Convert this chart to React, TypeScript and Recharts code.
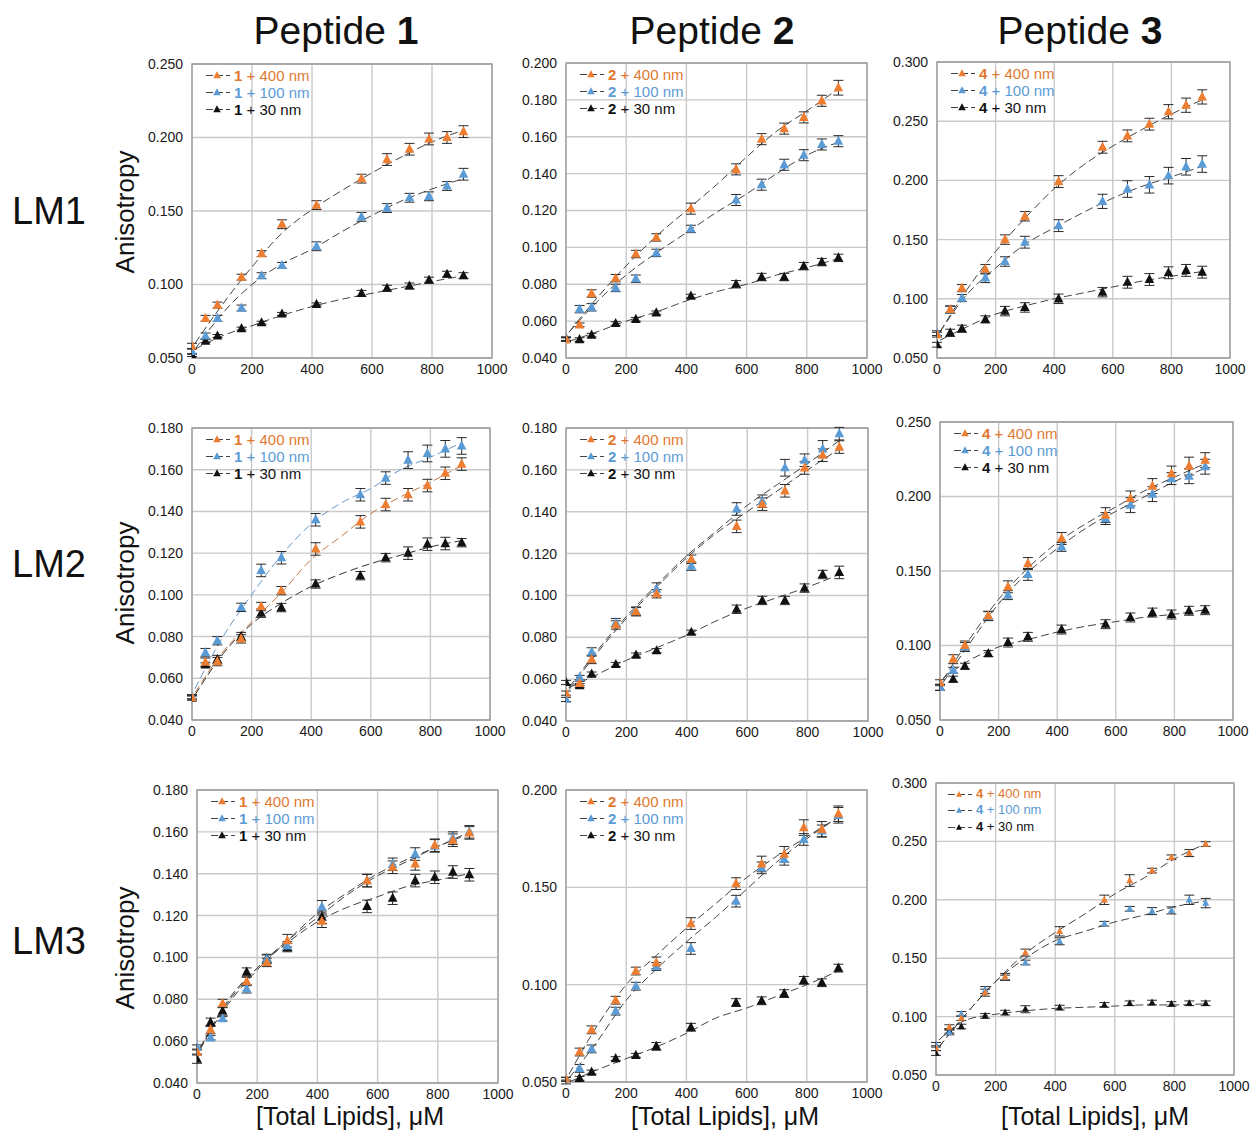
import React from "react";
import { ComposedChart, Scatter, Line, XAxis, YAxis, CartesianGrid, ErrorBar, ReferenceArea } from "recharts";

const ORANGE = "#ED7D31";
const BLUE = "#5B9BD5";
const BLACK = "#111111";
const FONT = "'Liberation Sans', Arial, Helvetica, sans-serif";

// lipid concentrations (uM) for the measured points and for the fitted curves
const lipids = [0, 45, 85, 165, 232, 300, 415, 565, 650, 725, 790, 850, 905];
const fitLipids = [10, 100, 200, 300, 400, 500, 600, 700, 800, 905];
const xTicks = [0, 200, 400, 600, 800, 1000];

// LM1 / peptide 1
const lm1p1_400 = [0.058, 0.077, 0.086, 0.105, 0.121, 0.141, 0.154, 0.172, 0.185, 0.192, 0.199, 0.2, 0.204];
const lm1p1_100 = [0.0545, 0.065, 0.077, 0.084, 0.106, 0.113, 0.126, 0.146, 0.152, 0.159, 0.16, 0.167, 0.175];
const lm1p1_30 = [0.052, 0.0615, 0.065, 0.07, 0.074, 0.08, 0.0865, 0.094, 0.0975, 0.099, 0.103, 0.107, 0.106];
const lm1p1_400_err = [0.002, 0.002, 0.002, 0.002, 0.002, 0.003, 0.003, 0.003, 0.004, 0.004, 0.004, 0.004, 0.004];
const lm1p1_100_err = [0.002, 0.002, 0.002, 0.002, 0.002, 0.002, 0.003, 0.003, 0.003, 0.003, 0.003, 0.003, 0.004];
const lm1p1_30_err = [0.001, 0.001, 0.001, 0.001, 0.001, 0.001, 0.001, 0.002, 0.002, 0.002, 0.002, 0.002, 0.002];
const lm1p1_400_fit = [0.06, 0.086, 0.112, 0.135, 0.151, 0.164, 0.176, 0.187, 0.197, 0.205];
const lm1p1_100_fit = [0.056, 0.08, 0.1, 0.114, 0.124, 0.136, 0.147, 0.157, 0.165, 0.172];
const lm1p1_30_fit = [0.056, 0.065, 0.072, 0.079, 0.085, 0.09, 0.094, 0.098, 0.102, 0.106];

// LM1 / peptide 2
const lm1p2_400 = [0.05, 0.058, 0.075, 0.0833, 0.0964, 0.1054, 0.121, 0.1423, 0.1587, 0.1644, 0.1705, 0.1795, 0.1866];
const lm1p2_100 = [0.05, 0.0665, 0.0675, 0.078, 0.083, 0.097, 0.11, 0.1257, 0.134, 0.1448, 0.15, 0.1558, 0.1576];
const lm1p2_30 = [0.0505, 0.05, 0.0524, 0.0587, 0.061, 0.0645, 0.0736, 0.08, 0.0839, 0.0839, 0.0898, 0.092, 0.0943];
const lm1p2_400_err = [0.001, 0.001, 0.002, 0.002, 0.002, 0.002, 0.003, 0.003, 0.003, 0.003, 0.003, 0.003, 0.004];
const lm1p2_100_err = [0.001, 0.002, 0.002, 0.002, 0.002, 0.002, 0.002, 0.003, 0.003, 0.003, 0.003, 0.003, 0.003];
const lm1p2_30_err = [0.001, 0.001, 0.001, 0.001, 0.001, 0.001, 0.001, 0.002, 0.002, 0.002, 0.002, 0.002, 0.002];
const lm1p2_400_fit = [0.054, 0.072, 0.09, 0.106, 0.12, 0.134, 0.149, 0.163, 0.174, 0.186];
const lm1p2_100_fit = [0.054, 0.07, 0.085, 0.097, 0.108, 0.119, 0.129, 0.14, 0.15, 0.157];
const lm1p2_30_fit = [0.049, 0.054, 0.06, 0.065, 0.071, 0.076, 0.08, 0.085, 0.089, 0.094];

// LM1 / peptide 3
const lm1p3_400 = [0.0697, 0.091, 0.109, 0.125, 0.15, 0.1697, 0.199, 0.228, 0.2376, 0.2475, 0.258, 0.2635, 0.2705];
const lm1p3_100 = [0.071, 0.0907, 0.1006, 0.1177, 0.1315, 0.1478, 0.1618, 0.1823, 0.1927, 0.1963, 0.204, 0.2115, 0.2138];
const lm1p3_30 = [0.0612, 0.0713, 0.0747, 0.0826, 0.0896, 0.0927, 0.1, 0.1056, 0.114, 0.1163, 0.122, 0.124, 0.1225];
const lm1p3_400_err = [0.002, 0.003, 0.003, 0.004, 0.004, 0.004, 0.005, 0.005, 0.005, 0.005, 0.006, 0.006, 0.006];
const lm1p3_100_err = [0.002, 0.003, 0.003, 0.004, 0.004, 0.005, 0.005, 0.006, 0.007, 0.007, 0.007, 0.007, 0.007];
const lm1p3_30_err = [0.002, 0.003, 0.003, 0.003, 0.004, 0.004, 0.004, 0.004, 0.005, 0.005, 0.005, 0.005, 0.005];
const lm1p3_400_fit = [0.072, 0.107, 0.14, 0.168, 0.193, 0.213, 0.229, 0.243, 0.256, 0.268];
const lm1p3_100_fit = [0.072, 0.103, 0.126, 0.146, 0.16, 0.173, 0.185, 0.195, 0.203, 0.212];
const lm1p3_30_fit = [0.065, 0.076, 0.087, 0.094, 0.1, 0.105, 0.11, 0.115, 0.119, 0.123];

// LM2 / peptide 1
const lm2p1_400 = [0.0507, 0.0677, 0.068, 0.0789, 0.0944, 0.102, 0.122, 0.135, 0.1433, 0.148, 0.1524, 0.1583, 0.1627];
const lm2p1_100 = [0.0512, 0.0723, 0.078, 0.094, 0.1117, 0.1178, 0.136, 0.148, 0.156, 0.1646, 0.1678, 0.17, 0.1714];
const lm2p1_30 = [0.0505, 0.0664, 0.069, 0.08, 0.0912, 0.0939, 0.1052, 0.1092, 0.1178, 0.12, 0.1243, 0.1246, 0.125];
const lm2p1_400_err = [0.001, 0.002, 0.002, 0.002, 0.002, 0.002, 0.003, 0.003, 0.003, 0.003, 0.003, 0.003, 0.003];
const lm2p1_100_err = [0.001, 0.002, 0.002, 0.002, 0.003, 0.003, 0.003, 0.003, 0.003, 0.004, 0.004, 0.004, 0.004];
const lm2p1_30_err = [0.001, 0.001, 0.002, 0.002, 0.002, 0.002, 0.002, 0.002, 0.002, 0.003, 0.003, 0.003, 0.002];
const lm2p1_400_fit = [0.053, 0.072, 0.087, 0.101, 0.117, 0.128, 0.139, 0.147, 0.154, 0.162];
const lm2p1_100_fit = [0.055, 0.079, 0.1, 0.119, 0.134, 0.144, 0.151, 0.16, 0.166, 0.173];
const lm2p1_30_fit = [0.052, 0.071, 0.086, 0.096, 0.104, 0.11, 0.115, 0.119, 0.123, 0.126];

// LM2 / peptide 2
const lm2p2_400 = [0.0533, 0.058, 0.0694, 0.0859, 0.0922, 0.1008, 0.1173, 0.133, 0.1436, 0.15, 0.1609, 0.167, 0.1709];
const lm2p2_100 = [0.0503, 0.0608, 0.073, 0.087, 0.0925, 0.103, 0.114, 0.1413, 0.145, 0.161, 0.1646, 0.17, 0.1773];
const lm2p2_30 = [0.0584, 0.0569, 0.0624, 0.067, 0.0715, 0.0736, 0.0824, 0.0934, 0.0976, 0.0976, 0.1035, 0.11, 0.111];
const lm2p2_400_err = [0.001, 0.001, 0.002, 0.002, 0.002, 0.002, 0.002, 0.003, 0.003, 0.003, 0.003, 0.003, 0.003];
const lm2p2_100_err = [0.001, 0.001, 0.002, 0.002, 0.002, 0.003, 0.002, 0.003, 0.003, 0.004, 0.003, 0.004, 0.003];
const lm2p2_30_err = [0.001, 0.001, 0.001, 0.001, 0.001, 0.001, 0.001, 0.002, 0.002, 0.002, 0.002, 0.002, 0.003];
const lm2p2_400_fit = [0.055, 0.072, 0.089, 0.104, 0.118, 0.13, 0.14, 0.15, 0.16, 0.17];
const lm2p2_100_fit = [0.056, 0.073, 0.09, 0.105, 0.119, 0.131, 0.143, 0.153, 0.163, 0.174];
const lm2p2_30_fit = [0.056, 0.062, 0.069, 0.075, 0.081, 0.088, 0.094, 0.099, 0.104, 0.11];

// LM2 / peptide 3
const lm2p3_400 = [0.075, 0.0908, 0.1, 0.12, 0.1394, 0.155, 0.1718, 0.1875, 0.1987, 0.207, 0.2154, 0.2204, 0.2244];
const lm2p3_100 = [0.0718, 0.0834, 0.099, 0.1197, 0.1338, 0.1477, 0.1662, 0.1852, 0.1942, 0.2016, 0.212, 0.2136, 0.22];
const lm2p3_30 = [0.072, 0.0774, 0.0861, 0.0946, 0.102, 0.1058, 0.1107, 0.1143, 0.1188, 0.1221, 0.1208, 0.1233, 0.1237];
const lm2p3_400_err = [0.002, 0.003, 0.003, 0.003, 0.004, 0.004, 0.004, 0.005, 0.005, 0.005, 0.005, 0.006, 0.005];
const lm2p3_100_err = [0.002, 0.002, 0.003, 0.003, 0.003, 0.004, 0.003, 0.004, 0.005, 0.005, 0.004, 0.005, 0.005];
const lm2p3_30_err = [0.002, 0.002, 0.002, 0.002, 0.003, 0.003, 0.003, 0.003, 0.003, 0.003, 0.003, 0.003, 0.003];
const lm2p3_400_fit = [0.077, 0.104, 0.131, 0.152, 0.169, 0.182, 0.193, 0.204, 0.213, 0.222];
const lm2p3_100_fit = [0.075, 0.101, 0.128, 0.149, 0.165, 0.179, 0.19, 0.2, 0.21, 0.219];
const lm2p3_30_fit = [0.078, 0.09, 0.099, 0.104, 0.109, 0.113, 0.116, 0.119, 0.121, 0.124];

// LM3 / peptide 1
const lm3p1_400 = [0.0548, 0.0655, 0.078, 0.0885, 0.0976, 0.108, 0.1173, 0.1367, 0.1431, 0.1447, 0.1536, 0.156, 0.1595];
const lm3p1_100 = [0.0572, 0.0616, 0.0707, 0.085, 0.0992, 0.1055, 0.1242, 0.1367, 0.1445, 0.1494, 0.1533, 0.157, 0.16];
const lm3p1_30 = [0.0514, 0.069, 0.0744, 0.093, 0.0995, 0.1047, 0.1192, 0.1244, 0.1283, 0.1367, 0.1383, 0.1408, 0.1395];
const lm3p1_400_err = [0.001, 0.002, 0.002, 0.002, 0.002, 0.003, 0.003, 0.003, 0.003, 0.003, 0.003, 0.003, 0.003];
const lm3p1_100_err = [0.001, 0.001, 0.001, 0.002, 0.002, 0.002, 0.003, 0.003, 0.003, 0.003, 0.003, 0.003, 0.003];
const lm3p1_30_err = [0.002, 0.002, 0.002, 0.002, 0.002, 0.002, 0.003, 0.003, 0.003, 0.003, 0.003, 0.003, 0.003];
const lm3p1_400_fit = [0.056, 0.078, 0.095, 0.108, 0.119, 0.13, 0.139, 0.146, 0.153, 0.159];
const lm3p1_100_fit = [0.057, 0.077, 0.094, 0.108, 0.121, 0.131, 0.14, 0.147, 0.153, 0.16];
const lm3p1_30_fit = [0.056, 0.079, 0.095, 0.107, 0.117, 0.124, 0.129, 0.134, 0.137, 0.14];

// LM3 / peptide 2
const lm3p2_400 = [0.0514, 0.0654, 0.0768, 0.092, 0.107, 0.1112, 0.1314, 0.1519, 0.162, 0.167, 0.1807, 0.1798, 0.1878];
const lm3p2_100 = [0.0514, 0.057, 0.067, 0.0864, 0.0992, 0.1093, 0.1186, 0.1429, 0.16, 0.1644, 0.1746, 0.179, 0.187];
const lm3p2_30 = [0.05, 0.0519, 0.0551, 0.062, 0.0637, 0.0683, 0.0781, 0.0908, 0.0917, 0.0954, 0.1022, 0.101, 0.1085];
const lm3p2_400_err = [0.001, 0.002, 0.002, 0.002, 0.002, 0.003, 0.003, 0.003, 0.004, 0.004, 0.004, 0.004, 0.004];
const lm3p2_100_err = [0.001, 0.002, 0.002, 0.002, 0.002, 0.002, 0.003, 0.003, 0.003, 0.003, 0.003, 0.003, 0.004];
const lm3p2_30_err = [0.001, 0.001, 0.001, 0.001, 0.001, 0.002, 0.002, 0.002, 0.002, 0.002, 0.002, 0.002, 0.002];
const lm3p2_400_fit = [0.054, 0.078, 0.1, 0.115, 0.129, 0.142, 0.155, 0.166, 0.176, 0.186];
const lm3p2_100_fit = [0.052, 0.07, 0.092, 0.108, 0.122, 0.135, 0.149, 0.163, 0.175, 0.186];
const lm3p2_30_fit = [0.05, 0.056, 0.062, 0.068, 0.075, 0.083, 0.088, 0.094, 0.1, 0.107];

// LM3 / peptide 3
const lm3p3_400 = [0.073, 0.091, 0.0986, 0.1205, 0.134, 0.1548, 0.173, 0.2, 0.2165, 0.225, 0.2364, 0.24, 0.2477];
const lm3p3_100 = [0.0759, 0.0864, 0.1023, 0.1227, 0.1335, 0.1463, 0.1645, 0.1795, 0.1923, 0.1903, 0.1909, 0.2, 0.1972];
const lm3p3_30 = [0.0688, 0.0878, 0.0915, 0.1006, 0.1034, 0.1063, 0.1077, 0.11, 0.1114, 0.112, 0.1108, 0.1114, 0.1114];
const lm3p3_400_err = [0.002, 0.002, 0.002, 0.003, 0.003, 0.003, 0.004, 0.004, 0.005, 0.002, 0.002, 0.003, 0.002];
const lm3p3_100_err = [0.002, 0.002, 0.002, 0.003, 0.002, 0.002, 0.003, 0.002, 0.002, 0.003, 0.003, 0.004, 0.004];
const lm3p3_30_err = [0.002, 0.002, 0.002, 0.002, 0.002, 0.003, 0.002, 0.002, 0.002, 0.002, 0.002, 0.002, 0.002];
const lm3p3_400_fit = [0.074, 0.102, 0.13, 0.154, 0.172, 0.188, 0.205, 0.219, 0.235, 0.248];
const lm3p3_100_fit = [0.074, 0.102, 0.13, 0.15, 0.165, 0.173, 0.181, 0.187, 0.194, 0.199];
const lm3p3_30_fit = [0.08, 0.097, 0.102, 0.105, 0.107, 0.108, 0.109, 0.11, 0.11, 0.111];

const ticks040_180 = [0.04, 0.06, 0.08, 0.1, 0.12, 0.14, 0.16, 0.18];
const ticks040_200 = [0.04, 0.06, 0.08, 0.1, 0.12, 0.14, 0.16, 0.18, 0.2];
const ticks050_250 = [0.05, 0.1, 0.15, 0.2, 0.25];
const ticks050_300 = [0.05, 0.1, 0.15, 0.2, 0.25, 0.3];
const ticks050_200 = [0.05, 0.1, 0.15, 0.2];

type Series = { vals: number[]; errs: number[]; fit: number[]; size: string; color: string; fitColor: string };

const mkSeries = (vals: number[], errs: number[], fit: number[], size: string, fitColor = "#444"): Series => ({
  vals,
  errs,
  fit,
  size,
  color: size === "400" ? ORANGE : size === "100" ? BLUE : BLACK,
  fitColor,
});

function steps(lo: number, hi: number, step: number) {
  const out: number[] = [];
  for (let v = lo; v <= hi + 1e-9; v += step) out.push(Number(v.toFixed(4)));
  return out;
}

function Triangle(props: any) {
  const { cx, cy, fill, r } = props;
  if (cx == null || cy == null) return null;
  const d = `M${cx},${cy - r * 1.15} L${cx + r},${cy + r * 0.75} L${cx - r},${cy + r * 0.75} Z`;
  return <path d={d} fill={fill} />;
}

type PanelProps = {
  left: number;
  top: number;
  w: number;
  h: number;
  domain: [number, number];
  ticks: number[];
  minor: number;
  pep: string;
  series: Series[]; // order: 400, 100, 30
  small?: boolean;
};

const TOP = 12;

function Panel({ left, top, w, h, domain, ticks, minor, pep, series, small }: PanelProps) {
  const minorY = steps(domain[0], domain[1], minor);
  const minorX = steps(0, 1000, 50);
  const r = small ? 3.5 : 4.8;
  const tickStyle = { fontSize: 14, fill: "#1a1a1a", fontFamily: FONT };
  const legendSize = small ? 13 : 15;
  const rowH = small ? 16.5 : 17;
  return (
    <>
      <div style={{ position: "absolute", left: left - 50, top: top - TOP }}>
        <ComposedChart width={w + 72} height={h + TOP + 24} margin={{ top: TOP, right: 22, bottom: 0, left: 0 }}>
          <CartesianGrid stroke="#c9c9c9" strokeWidth={1.4} />
          <XAxis
            dataKey="x"
            type="number"
            domain={[0, 1000]}
            ticks={xTicks}
            interval={0}
            height={24}
            tickLine={false}
            axisLine={false}
            tickSize={4}
            tickMargin={2}
            tick={tickStyle}
            allowDataOverflow
          />
          <XAxis xAxisId="mb" orientation="bottom" mirror height={0} type="number" domain={[0, 1000]} ticks={minorX} interval={0} tick={false} axisLine={false} tickLine={{ stroke: "#555" }} tickSize={4} allowDataOverflow />
          <XAxis xAxisId="mt" orientation="top" mirror height={0} type="number" domain={[0, 1000]} ticks={minorX} interval={0} tick={false} axisLine={false} tickLine={{ stroke: "#555" }} tickSize={4} allowDataOverflow />
          <YAxis
            dataKey="y"
            type="number"
            domain={domain}
            ticks={ticks}
            interval={0}
            width={50}
            tickLine={false}
            axisLine={false}
            tickSize={6}
            tickMargin={3}
            tick={tickStyle}
            tickFormatter={(v: number) => v.toFixed(3)}
            allowDataOverflow
          />
          <YAxis yAxisId="ml" orientation="left" mirror width={0} type="number" domain={domain} ticks={minorY} interval={0} tick={false} axisLine={false} tickLine={{ stroke: "#555" }} tickSize={4} allowDataOverflow />
          <YAxis yAxisId="mr" orientation="right" mirror width={0} type="number" domain={domain} ticks={minorY} interval={0} tick={false} axisLine={false} tickLine={{ stroke: "#555" }} tickSize={4} allowDataOverflow />
          <ReferenceArea x1={0} x2={1000} y1={domain[0]} y2={domain[1]} fill="none" fillOpacity={0} stroke="#9a9a9a" strokeWidth={1.3} />
          {series.map((s) => (
            <Line
              key={"fit" + s.size}
              data={fitLipids.map((x, i) => ({ x, y: s.fit[i] }))}
              dataKey="y"
              type="monotone"
              stroke={s.fitColor}
              strokeWidth={1}
              strokeDasharray="8 4"
              dot={false}
              activeDot={false}
              isAnimationActive={false}
            />
          ))}
          {[...series].reverse().map((s) => (
            <Scatter
              key={"pts" + s.size}
              data={lipids.map((x, i) => ({ x, y: s.vals[i], e: s.errs[i] }))}
              fill={s.color}
              isAnimationActive={false}
              shape={(p: any) => <Triangle cx={p.cx} cy={p.cy} fill={s.color} r={r} />}
            >
              <ErrorBar dataKey="e" direction="y" width={5} stroke="#2a2a2a" strokeWidth={1} />
            </Scatter>
          ))}
        </ComposedChart>
      </div>
      {series.map((s, i) => (
        <div
          key={"lg" + s.size}
          style={{
            position: "absolute",
            left: left + (small ? 12 : 14),
            top: top + 2.5 + i * rowH,
            height: rowH,
            lineHeight: rowH + "px",
            display: "flex",
            alignItems: "center",
            fontFamily: FONT,
            fontSize: legendSize,
            whiteSpace: "nowrap",
          }}
        >
          <svg width={24} height={10} style={{ display: "block" }}>
            <line x1={0} y1={5.5} x2={24} y2={5.5} stroke="#444" strokeWidth={1} strokeDasharray="7 3" />
            <Triangle cx={11} cy={5.5} fill={s.color} r={small ? 3 : 3.8} />
          </svg>
          <span style={{ marginLeft: 4, color: s.size === "30" ? "#111" : s.size === "400" ? "#E0792F" : BLUE }}>
            <b style={{ color: s.size === "30" ? "#111" : undefined }}>{pep}</b> + {s.size} nm
          </span>
        </div>
      ))}
    </>
  );
}

const rowLabels = ["LM1", "LM2", "LM3"];
const rowCenters = [211, 564, 941];
const yLabelCenters = [212, 583, 948];
const colTitles = ["1", "2", "3"];
const colCenters = [336, 712, 1080];
const xLabelCenters = [350, 725, 1095];

export default function App() {
  return (
    <div style={{ position: "absolute", left: 0, top: 0, width: 1252, height: 1132, background: "#fff", fontFamily: FONT, color: "#111" }}>
      {colTitles.map((t, i) => (
        <div key={"ct" + i} style={{ position: "absolute", left: colCenters[i] - 150, top: 11, width: 300, textAlign: "center", fontSize: 39, lineHeight: "39px" }}>
          Peptide <b>{t}</b>
        </div>
      ))}
      {rowLabels.map((t, i) => (
        <div key={"rl" + i} style={{ position: "absolute", left: 12, top: rowCenters[i] - 22, fontSize: 38, lineHeight: "44px" }}>
          {t}
        </div>
      ))}
      {yLabelCenters.map((c, i) => (
        <div
          key={"yl" + i}
          style={{
            position: "absolute",
            left: 125 - 100,
            top: c - 15,
            width: 200,
            height: 30,
            lineHeight: "30px",
            textAlign: "center",
            fontSize: 26,
            transform: "rotate(-90deg)",
          }}
        >
          Anisotropy
        </div>
      ))}
      {xLabelCenters.map((c, i) => (
        <div key={"xl" + i} style={{ position: "absolute", left: c - 150, top: 1104, width: 300, textAlign: "center", fontSize: 25, lineHeight: "25px" }}>
          [Total Lipids], μM
        </div>
      ))}

      <Panel left={192} top={64} w={300} h={294} domain={[0.05, 0.25]} ticks={ticks050_250} minor={0.01} pep="1"
        series={[mkSeries(lm1p1_400, lm1p1_400_err, lm1p1_400_fit, "400"), mkSeries(lm1p1_100, lm1p1_100_err, lm1p1_100_fit, "100"), mkSeries(lm1p1_30, lm1p1_30_err, lm1p1_30_fit, "30")]} />
      <Panel left={566} top={63} w={301} h={295} domain={[0.04, 0.2]} ticks={ticks040_200} minor={0.005} pep="2"
        series={[mkSeries(lm1p2_400, lm1p2_400_err, lm1p2_400_fit, "400"), mkSeries(lm1p2_100, lm1p2_100_err, lm1p2_100_fit, "100"), mkSeries(lm1p2_30, lm1p2_30_err, lm1p2_30_fit, "30")]} />
      <Panel left={937} top={62} w={293} h={296} domain={[0.05, 0.3]} ticks={ticks050_300} minor={0.01} pep="4"
        series={[mkSeries(lm1p3_400, lm1p3_400_err, lm1p3_400_fit, "400"), mkSeries(lm1p3_100, lm1p3_100_err, lm1p3_100_fit, "100"), mkSeries(lm1p3_30, lm1p3_30_err, lm1p3_30_fit, "30")]} />

      <Panel left={192} top={428} w={298} h={292} domain={[0.04, 0.18]} ticks={ticks040_180} minor={0.005} pep="1"
        series={[mkSeries(lm2p1_400, lm2p1_400_err, lm2p1_400_fit, "400", "#C07A4E"), mkSeries(lm2p1_100, lm2p1_100_err, lm2p1_100_fit, "100", "#6A97C4"), mkSeries(lm2p1_30, lm2p1_30_err, lm2p1_30_fit, "30", "#333")]} />
      <Panel left={566} top={428} w={302} h={293} domain={[0.04, 0.18]} ticks={ticks040_180} minor={0.005} pep="2"
        series={[mkSeries(lm2p2_400, lm2p2_400_err, lm2p2_400_fit, "400"), mkSeries(lm2p2_100, lm2p2_100_err, lm2p2_100_fit, "100"), mkSeries(lm2p2_30, lm2p2_30_err, lm2p2_30_fit, "30")]} />
      <Panel left={940} top={422} w={293} h={298} domain={[0.05, 0.25]} ticks={ticks050_250} minor={0.01} pep="4"
        series={[mkSeries(lm2p3_400, lm2p3_400_err, lm2p3_400_fit, "400"), mkSeries(lm2p3_100, lm2p3_100_err, lm2p3_100_fit, "100"), mkSeries(lm2p3_30, lm2p3_30_err, lm2p3_30_fit, "30")]} />

      <Panel left={197} top={790} w={301} h={293} domain={[0.04, 0.18]} ticks={ticks040_180} minor={0.005} pep="1"
        series={[mkSeries(lm3p1_400, lm3p1_400_err, lm3p1_400_fit, "400"), mkSeries(lm3p1_100, lm3p1_100_err, lm3p1_100_fit, "100"), mkSeries(lm3p1_30, lm3p1_30_err, lm3p1_30_fit, "30")]} />
      <Panel left={566} top={790} w={301} h={292} domain={[0.05, 0.2]} ticks={ticks050_200} minor={0.01} pep="2"
        series={[mkSeries(lm3p2_400, lm3p2_400_err, lm3p2_400_fit, "400"), mkSeries(lm3p2_100, lm3p2_100_err, lm3p2_100_fit, "100"), mkSeries(lm3p2_30, lm3p2_30_err, lm3p2_30_fit, "30")]} />
      <Panel left={936} top={783} w={298} h={292} domain={[0.05, 0.3]} ticks={ticks050_300} minor={0.01} pep="4" small
        series={[mkSeries(lm3p3_400, lm3p3_400_err, lm3p3_400_fit, "400"), mkSeries(lm3p3_100, lm3p3_100_err, lm3p3_100_fit, "100"), mkSeries(lm3p3_30, lm3p3_30_err, lm3p3_30_fit, "30")]} />
    </div>
  );
}
